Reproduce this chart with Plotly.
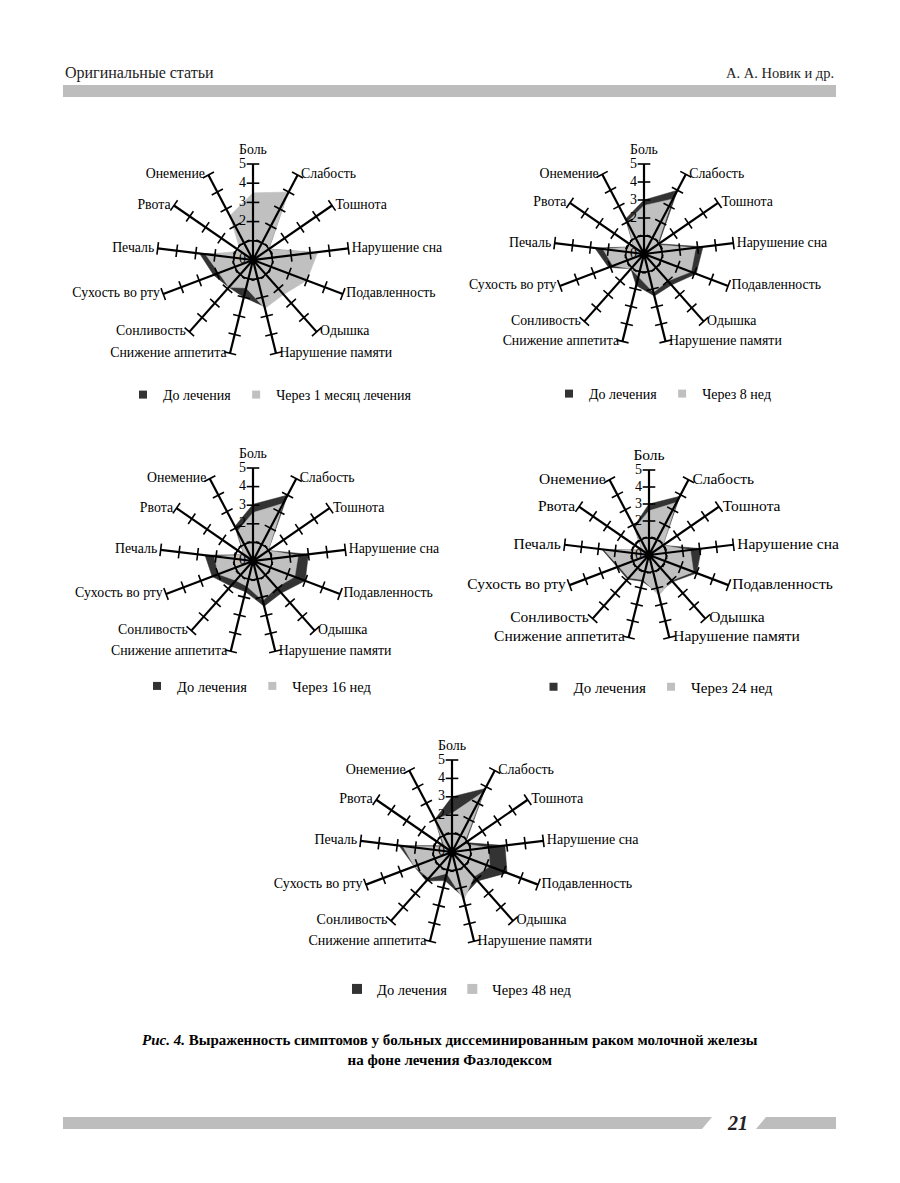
import plotly.graph_objects as go

categories = ["Боль", "Слабость", "Тошнота", "Нарушение сна", "Подавленность", "Одышка",
              "Нарушение памяти", "Снижение аппетита", "Сонливость", "Сухость во рту",
              "Печаль", "Рвота", "Онемение"]

before_c1 = [3.0, 3.8, 1.0, 3.2, 2.9, 2.1, 2.5, 2.0, 1.9, 2.2, 2.8, 0.6, 2.1]
after_1m  = [3.5, 4.0, 1.0, 3.4, 3.0, 2.4, 2.6, 1.5, 1.9, 1.9, 2.5, 0.8, 2.6]
before_c2 = [3.0, 4.0, 1.0, 3.3, 3.1, 2.3, 2.4, 1.8, 1.1, 2.1, 2.75, 0.7, 2.2]
after_8w  = [2.7, 3.45, 0.9, 2.9, 2.8, 2.0, 2.2, 1.3, 1.1, 1.85, 2.3, 0.7, 2.0]
before_c3 = [3.05, 4.0, 1.0, 3.0, 3.0, 2.3, 2.5, 1.7, 1.8, 2.35, 2.6, 0.6, 2.1]
after_16w = [2.6, 3.5, 1.0, 2.45, 2.4, 1.9, 2.2, 1.4, 1.4, 2.0, 2.1, 0.6, 1.8]
before_c4 = [3.0, 3.9, 1.0, 3.1, 3.0, 2.1, 2.3, 1.6, 1.9, 2.0, 2.8, 0.5, 1.9]
after_24w = [2.6, 3.5, 1.0, 2.45, 2.8, 2.0, 2.45, 1.5, 1.8, 1.9, 2.7, 0.5, 1.8]
before_c5 = [3.0, 3.9, 0.9, 2.9, 3.2, 2.1, 2.5, 1.6, 2.1, 2.2, 2.9, 0.6, 2.0]
after_48w = [2.1, 3.7, 0.8, 2.0, 2.2, 1.8, 2.7, 1.2, 1.9, 2.2, 2.7, 0.5, 2.0]

before_name = "До лечения"
after_names = ["Через 1 месяц лечения", "Через 8 нед", "Через 16 нед", "Через 24 нед", "Через 48 нед"]
radial_labels = [0, 2, 3, 4, 5]
tick_levels = [1, 2, 3, 4, 5]
r_max = 5
r_range = r_max * 1.1  # headroom so the top label is not clipped

W, H = 900, 1183
FONT = "Liberation Serif"
DARK = "#333333"
LIGHT = "#c0c0c0"
NBSP = "\u00a0"

charts = [
    dict(before=before_c1, after=after_1m, cx=253, cy=260, r=96, lx=270, ly=395, fs=13.8, lfs=14),
    dict(before=before_c2, after=after_8w, cx=644, cy=254, r=90, lx=663, ly=394, fs=13.8, lfs=14),
    dict(before=before_c3, after=after_16w, cx=253, cy=561, r=93, lx=257, ly=686, fs=13.8, lfs=14.5),
    dict(before=before_c4, after=after_24w, cx=649, cy=555, r=85, lx=656, ly=687, fs=15.5, lfs=15),
    dict(before=before_c5, after=after_48w, cx=452, cy=852, r=92, lx=457, ly=989, fs=14, lfs=14.5),
]

n = len(categories)
angles = [i * 360.0 / n for i in range(n)]
label_pos, label_txt, label_r = [], [], []
for a, c in zip(angles, categories):
    if a == 0:
        label_pos.append("top center"); label_txt.append(c); label_r.append(r_max * 1.07)
    elif a < 180:
        label_pos.append("middle right"); label_txt.append(NBSP + c); label_r.append(r_max)
    else:
        label_pos.append("middle left"); label_txt.append(c + NBSP); label_r.append(r_max)

fig = go.Figure()
layout_upd = {}
for k, ch in enumerate(charts):
    pid = "polar" if k == 0 else f"polar{k+1}"
    lid = "legend" if k == 0 else f"legend{k+1}"
    sub = pid
    closed_ang = angles + [angles[0]]
    # series fills
    fig.add_trace(go.Scatterpolar(
        r=ch["before"] + [ch["before"][0]], theta=closed_ang, subplot=sub,
        mode="lines", fill="toself", fillcolor=DARK, line=dict(color=DARK, width=0.5),
        name=before_name, showlegend=False, hoverinfo="skip"))
    fig.add_trace(go.Scatterpolar(
        r=ch["after"] + [ch["after"][0]], theta=closed_ang, subplot=sub,
        mode="lines", fill="toself", fillcolor=LIGHT, line=dict(color=LIGHT, width=0.5),
        name=after_names[k], showlegend=False, hoverinfo="skip"))
    # legend entries (small squares as in the reference)
    for nm, col in [(before_name, DARK), (after_names[k], LIGHT)]:
        fig.add_trace(go.Scatterpolar(r=[None], theta=[None], subplot=sub, mode="markers",
                                      marker=dict(symbol="square", size=10 if k == 4 else 8, color=col),
                                      name=nm, legend=lid, showlegend=True, hoverinfo="skip"))
    # spokes
    sr, st = [], []
    for a in angles:
        sr += [0, r_max, None]
        st += [a, a, None]
    fig.add_trace(go.Scatterpolar(r=sr, theta=st, subplot=sub, mode="lines",
                                  line=dict(color="black", width=2.2), showlegend=False,
                                  connectgaps=False, hoverinfo="skip"))
    # tick marks on spokes
    tr, tt, ta = [], [], []
    for a in angles:
        for lv in tick_levels:
            tr.append(lv); tt.append(a); ta.append(a)
    fig.add_trace(go.Scatterpolar(r=tr, theta=tt, subplot=sub, mode="markers",
                                  marker=dict(symbol="line-ew", size=9, angle=ta,
                                              line=dict(color="black", width=1.6)),
                                  showlegend=False, hoverinfo="skip"))
    # dashed circle at level 1
    circ_t = [i * 3 for i in range(121)]
    fig.add_trace(go.Scatterpolar(r=[1] * len(circ_t), theta=circ_t, subplot=sub, mode="lines",
                                  line=dict(color="black", width=1.4, dash="dash"),
                                  showlegend=False, hoverinfo="skip"))
    # radial labels
    fig.add_trace(go.Scatterpolar(r=radial_labels, theta=[angles[0]] * len(radial_labels),
                                  subplot=sub, mode="text",
                                  text=[str(v) + NBSP * 2 for v in radial_labels],
                                  textposition="middle left",
                                  textfont=dict(family=FONT, size=14, color="black"),
                                  showlegend=False, hoverinfo="skip"))
    # category labels at the spoke ends
    fig.add_trace(go.Scatterpolar(r=label_r, theta=angles, subplot=sub, mode="text",
                                  text=label_txt, textposition=label_pos,
                                  textfont=dict(family=FONT, size=ch["fs"], color="black"),
                                  showlegend=False, hoverinfo="skip", cliponaxis=False))
    # center dot
    fig.add_trace(go.Scatterpolar(r=[0], theta=[angles[0]], subplot=sub, mode="markers",
                                  marker=dict(color="black", size=9), showlegend=False,
                                  hoverinfo="skip"))
    cx, cy = ch["cx"], ch["cy"]
    r = ch["r"] * r_range / r_max
    layout_upd[pid] = dict(
        domain=dict(x=[(cx - r) / W, (cx + r) / W], y=[1 - (cy + r) / H, 1 - (cy - r) / H]),
        bgcolor="rgba(0,0,0,0)",
        radialaxis=dict(range=[0, r_range], visible=False, showgrid=False),
        angularaxis=dict(type="linear", thetaunit="degrees", direction="clockwise",
                         rotation=90, showgrid=False, showline=False, ticks="",
                         showticklabels=False),
    )
    layout_upd[lid] = dict(orientation="h", x=ch["lx"] / W, y=1 - ch["ly"] / H,
                           xanchor="center", yanchor="middle", bgcolor="rgba(0,0,0,0)",
                           font=dict(family=FONT, size=ch["lfs"], color="black"),
                           itemwidth=30, tracegroupgap=0)

fig.update_layout(**layout_upd)

shapes = [
    dict(type="rect", xref="paper", yref="paper", x0=63 / W, x1=836 / W,
         y0=1 - 97 / H, y1=1 - 85 / H, fillcolor="#bdbdbd", line=dict(width=0)),
    dict(type="path", xref="paper", yref="paper",
         path=f"M {63/W},{1-1117/H} L {712/W},{1-1117/H} L {702/W},{1-1129/H} L {63/W},{1-1129/H} Z",
         fillcolor="#bdbdbd", line=dict(width=0)),
    dict(type="path", xref="paper", yref="paper",
         path=f"M {766/W},{1-1117/H} L {836/W},{1-1117/H} L {836/W},{1-1129/H} L {756/W},{1-1129/H} Z",
         fillcolor="#bdbdbd", line=dict(width=0)),
]

annotations = [
    dict(text="Оригинальные статьи", x=63 / W, y=1 - 73 / H, xref="paper", yref="paper",
         xanchor="left", yanchor="middle", showarrow=False,
         font=dict(family=FONT, size=16, color="#222")),
    dict(text="А. А. Новик и др.", x=836 / W, y=1 - 73 / H, xref="paper", yref="paper",
         xanchor="right", yanchor="middle", showarrow=False,
         font=dict(family=FONT, size=14.5, color="#222")),
    dict(text="<b><i>Рис. 4.</i> Выраженность симптомов у больных диссеминированным раком молочной железы</b>"
              "<br><b>на фоне лечения Фазлодексом</b>",
         x=450 / W, y=1 - 1050 / H, xref="paper", yref="paper", xanchor="center", yanchor="middle",
         showarrow=False, align="center",
         font=dict(family=FONT, size=15, color="black")),
    dict(text="<b><i>21</i></b>", x=737 / W, y=1 - 1123 / H, xref="paper", yref="paper",
         xanchor="center", yanchor="middle", showarrow=False,
         font=dict(family=FONT, size=20, color="#222")),
]

fig.update_layout(width=W, height=H, margin=dict(l=0, r=0, t=0, b=0),
                  paper_bgcolor="white", plot_bgcolor="white",
                  shapes=shapes, annotations=annotations,
                  font=dict(family=FONT, color="black"))

fig.write_html("out.html", config={"displayModeBar": False})
with open("out.html", encoding="utf-8") as f:
    html = f.read()
html = html.replace("<body>", '<body style="margin:0;overflow:hidden">', 1)
with open("out.html", "w", encoding="utf-8") as f:
    f.write(html)
